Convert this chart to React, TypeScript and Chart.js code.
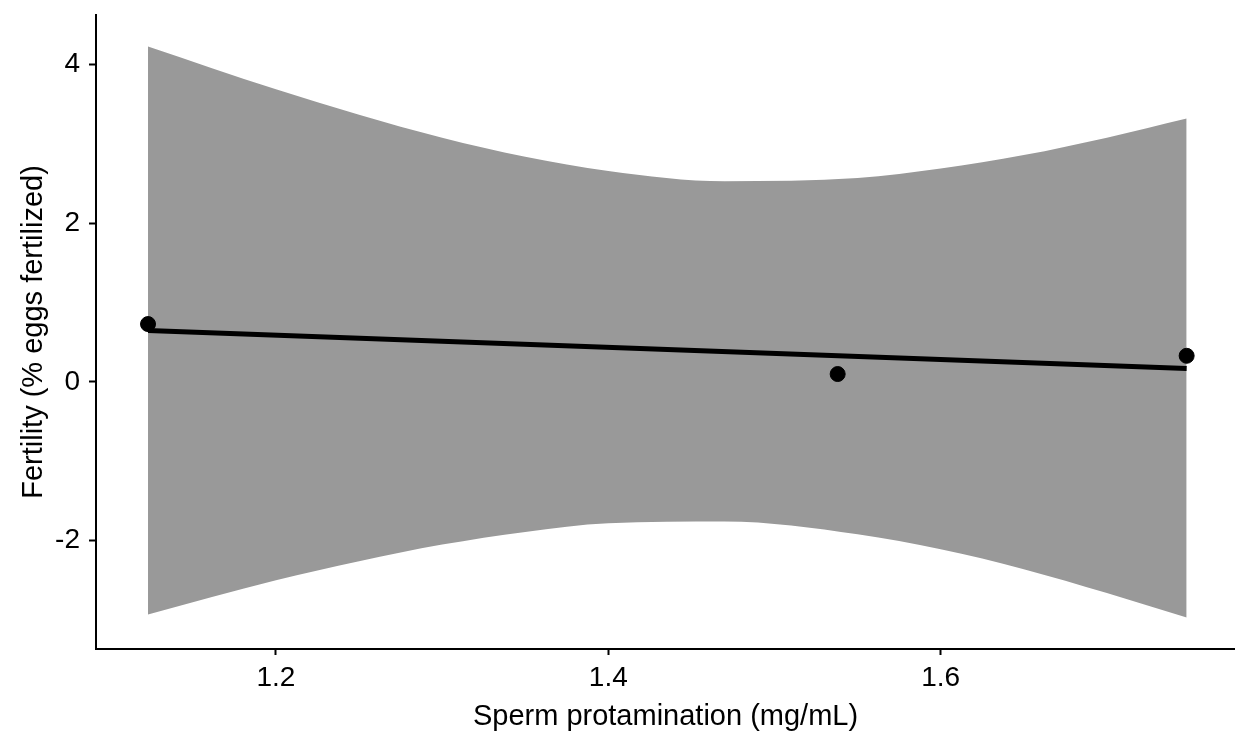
import React, { useEffect, useRef } from "react";
import { Chart, registerables } from "chart.js";

Chart.register(...registerables);

// Observed samples
const pointX = [1.123, 1.538, 1.748];
const pointY = [0.73, 0.1, 0.33];

// Fitted regression line end points
const fitX = [1.123, 1.748];
const fitY = [0.65, 0.17];

// Confidence band (upper / lower edge) along the fitted range
const bandX = [1.123, 1.2, 1.25, 1.3, 1.35, 1.4, 1.47, 1.55, 1.6, 1.65, 1.7, 1.748];
const bandUpper = [4.23, 3.69, 3.37, 3.08, 2.84, 2.66, 2.53, 2.57, 2.69, 2.86, 3.08, 3.32];
const bandLower = [-2.93, -2.5, -2.26, -2.05, -1.89, -1.78, -1.76, -1.92, -2.11, -2.36, -2.66, -2.97];

// Axis ticks
const xTicks = [1.2, 1.4, 1.6];
const yTicks = [-2, 0, 2, 4];

const xTitle = "Sperm protamination (mg/mL)";
const yTitle = "Fertility (% eggs fertilized)";

const FONT = "'Liberation Sans', Arial, Helvetica, sans-serif";

const zip = (xs: number[], ys: number[]) => xs.map((x, i) => ({ x, y: ys[i] }));

// Keep the plot area flush with the requested layout padding
const noEdgePadding = (scale: any) => {
  scale.paddingTop = 0;
  scale.paddingBottom = 0;
  scale.paddingLeft = 0;
  scale.paddingRight = 0;
};

export default function App() {
  const canvasRef = useRef<HTMLCanvasElement | null>(null);

  useEffect(() => {
    const canvas = canvasRef.current;
    if (!canvas) return;

    const chart = new Chart(canvas, {
      type: "scatter",
      data: {
        datasets: [
          {
            label: "points",
            data: zip(pointX, pointY),
            backgroundColor: "#000",
            borderColor: "#000",
            pointRadius: 7.5,
            pointHoverRadius: 7.5,
            showLine: false,
          },
          {
            label: "fit",
            data: zip(fitX, fitY),
            showLine: true,
            borderColor: "#000",
            borderWidth: 5,
            pointRadius: 0,
            fill: false,
          },
          {
            label: "upper",
            data: zip(bandX, bandUpper),
            showLine: true,
            borderWidth: 0,
            borderColor: "rgba(0,0,0,0)",
            backgroundColor: "#999999",
            pointRadius: 0,
            cubicInterpolationMode: "monotone",
            fill: "+1",
          },
          {
            label: "lower",
            data: zip(bandX, bandLower),
            showLine: true,
            borderWidth: 0,
            borderColor: "rgba(0,0,0,0)",
            pointRadius: 0,
            cubicInterpolationMode: "monotone",
            fill: false,
          },
        ],
      },
      options: {
        animation: false,
        responsive: false,
        layout: { autoPadding: false, padding: { top: 15, right: 0, left: 0, bottom: 0 } },
        plugins: {
          legend: { display: false },
          tooltip: { enabled: false },
        },
        scales: {
          x: {
            type: "linear",
            min: 1.0917,
            max: 1.7771,
            afterBuildTicks: (scale: any) => {
              scale.ticks = xTicks.map((v) => ({ value: v }));
            },
            afterFit: (scale: any) => {
              scale.height = 87;
              noEdgePadding(scale);
            },
            ticks: {
              color: "#000",
              padding: 6,
              font: { family: FONT, size: 28 },
              callback: (v: any) => Number(v).toFixed(1),
            },
            grid: {
              display: true,
              drawOnChartArea: false,
              drawTicks: true,
              tickLength: 6,
              tickWidth: 2,
              color: "#000",
            },
            border: { display: true, color: "#000", width: 2 },
            title: {
              display: true,
              text: xTitle,
              color: "#000",
              font: { family: FONT, size: 29 },
              padding: { top: 0, bottom: 2 },
            },
          },
          y: {
            type: "linear",
            min: -3.366,
            max: 4.626,
            afterBuildTicks: (scale: any) => {
              scale.ticks = yTicks.map((v) => ({ value: v }));
            },
            afterFit: (scale: any) => {
              scale.width = 96;
              noEdgePadding(scale);
            },
            ticks: {
              color: "#000",
              padding: 9,
              font: { family: FONT, size: 28 },
              callback: (v: any) => String(v),
            },
            grid: {
              display: true,
              drawOnChartArea: false,
              drawTicks: true,
              tickLength: 7,
              tickWidth: 2,
              color: "#000",
            },
            border: { display: true, color: "#000", width: 2 },
            title: {
              display: true,
              text: yTitle,
              color: "#000",
              font: { family: FONT, size: 29 },
              padding: { top: 17, bottom: 0 },
            },
          },
        },
      },
    });

    return () => chart.destroy();
  }, []);

  return (
    <div style={{ position: "absolute", left: 0, top: 0, width: 1235, height: 736, background: "#fff" }}>
      <canvas ref={canvasRef} width={1235} height={736} style={{ display: "block" }} />
    </div>
  );
}
